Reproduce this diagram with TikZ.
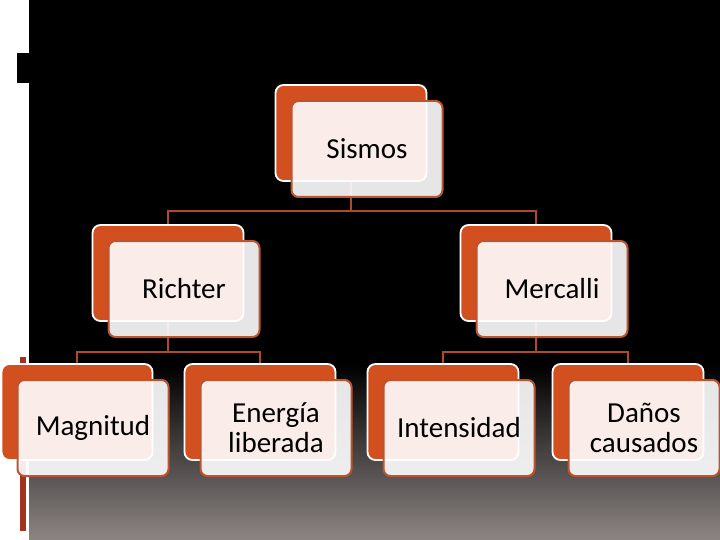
\documentclass[tikz,border=0pt]{standalone}
\usepackage{fontspec}
\setmainfont{Carlito}
\usepackage{xcolor}
\definecolor{cCard}{HTML}{D24F1F}
\definecolor{cEdge}{HTML}{BA5530}
\definecolor{cLink}{HTML}{AD4A2B}
\definecolor{cRule}{HTML}{A3331F}
\definecolor{cFade}{HTML}{8D8583}
\usepackage{tikz}
\usetikzlibrary{positioning,calc}
\pgfdeclarelayer{backdrop}
\pgfdeclarelayer{links}
\pgfsetlayers{backdrop,links,main}
\tikzset{
  card-back/.style={draw=white,line width=1.8pt,fill=cCard,rounded corners=8pt,
    minimum width=151pt,minimum height=96pt,inner sep=0pt,outer sep=0pt},
  card-front/.style={draw=cEdge,line width=2pt,fill=white,fill opacity=0.9,
    text opacity=1,rounded corners=7pt,minimum width=151pt,minimum height=96pt,
    inner sep=0pt,outer sep=0pt,align=center,
    font=\fontsize{29}{30}\selectfont},
  link/.style={draw=cLink,line width=1.7pt},
}

\begin{document}
\begin{tikzpicture}[x=1pt,y=-1pt]
  \useasboundingbox (0,0) rectangle (720,540);
  \begin{pgfonlayer}{backdrop}
    \fill[white] (0,0) rectangle (29,540);
    \fill[black] (29,0) rectangle (720,540);
    \shade[top color=black,bottom color=cFade] (29,365) rectangle (720,540);
    \fill[black] (17,53) rectangle (29,83);
    \draw[cRule,line width=6pt] (23,357) -- (23,531);
  \end{pgfonlayer}
  \foreach \n/\x/\y/\t in {sismos/351/133/Sismos, richter/168/273/Richter,
      mercalli/536/273/Mercalli, magnitud/77/412/Magnitud,
      energia/260/412/{Energía\\liberada}, intensidad/443/412/Intensidad,
      danos/628/412/{Daños\\causados}} {
    \node[card-back] (\n-back) at (\x,\y) {};
    \node[card-front] (\n) at ([shift={(16,16)}]\n-back.center) {\t};
  }
  \coordinate (bus-a) at (0,211);
  \coordinate (bus-b) at (0,352);
  \begin{pgfonlayer}{links}
    \draw[link] (sismos-back.center) -- (sismos-back.center |- bus-a) -| (richter-back.center);
    \draw[link] (sismos-back.center |- bus-a) -| (mercalli-back.center);
    \draw[link] (richter-back.center) -- (richter-back.center |- bus-b) -| (magnitud-back.center);
    \draw[link] (richter-back.center |- bus-b) -| (energia-back.center);
    \draw[link] (mercalli-back.center) -- (mercalli-back.center |- bus-b) -| (intensidad-back.center);
    \draw[link] (mercalli-back.center |- bus-b) -| (danos-back.center);
  \end{pgfonlayer}
\end{tikzpicture}
\end{document}
